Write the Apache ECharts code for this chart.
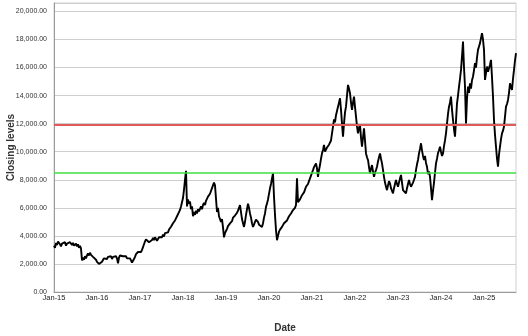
<!DOCTYPE html>
<html>
<head>
<meta charset="utf-8">
<script src="https://cdn.jsdelivr.net/npm/echarts@6/dist/echarts.min.js"></script>
<style>html,body{margin:0;padding:0;background:#fff}#c{width:528px;height:336px}</style>
</head>
<body>
<div id="c"></div>
<script>
// Sampling grid: 43 samples per year starting Jan 2015 (about one every 8.5 days)
const startYear = 2015;
const samplesPerYear = 43;
const xTickLabels = ['Jan-15','Jan-16','Jan-17','Jan-18','Jan-19','Jan-20','Jan-21','Jan-22','Jan-23','Jan-24','Jan-25'];
const yTicks = [0,2000,4000,6000,8000,10000,12000,14000,16000,18000,20000];
const redLevel = 11900;
const greenLevel = 8500;

const closes2015 = [3300,3150,3500,3350,3600,3700,3400,3250,3450,3550,3350,3550,3300,3450,3500,3400,3550,3450,3350,3500,3300,3400,3450,3250,3400,3150,3300,3100,2250,2450,2300,2550,2400,2600,2750,2600,2800,2650,2700,2500,2600,2400,2300];
const closes2016 = [2150,2050,2000,2100,1980,2150,2250,2400,2300,2450,2350,2500,2600,2450,2550,2350,2500,2600,2450,2550,2400,2050,2450,2600,2500,2650,2550,2600,2500,2550,2400,2450,2350,2400,2250,2100,2070,2350,2500,2700,2650,2850,2750];
const closes2017 = [2900,2850,3000,3200,3400,3600,3750,3650,3700,3550,3650,3500,3700,3850,3700,3900,3800,3650,3750,3900,3850,4000,3900,4100,3950,4200,4100,4300,4250,4450,4550,4650,4700,4900,5000,5100,5250,5400,5500,5700,5850,6100,6400];
const closes2018 = [6700,7300,8000,8640,6100,6600,6300,6450,5900,6100,5400,5700,5500,5800,5600,5900,5750,5850,6100,5900,6200,6350,6200,6500,6550,6800,6700,7000,7100,7400,7600,7800,7600,7600,5700,6000,5400,5500,5000,5200,4600,3900,4200];
const closes2019 = [4350,4500,4700,4650,4890,5000,5050,5300,5200,5450,5400,5650,5800,5900,6190,5700,5200,4900,4640,5000,5500,5900,6300,6000,5600,5300,4900,4640,4800,5000,5150,5260,5000,4800,4900,4750,4640,4900,5300,5600,6070,6300,6600];
const closes2020 = [7000,7390,7700,8100,8460,6790,5500,4400,3690,4000,4300,4450,4500,4640,4700,4900,4850,5000,5100,5240,5400,5300,5600,5700,5840,5800,6000,6200,8100,6400,6330,6600,6500,6900,6790,7100,7300,7500,7400,7700,7900,7980,8300];
const closes2021 = [8500,8690,8900,9000,9170,8800,8210,8700,9050,9500,9880,10120,10480,10000,9880,10300,10240,10500,10400,10800,11300,11790,12300,12100,12600,12740,13200,13500,13810,13000,12000,11070,12000,12800,13210,14000,14760,14500,14170,13500,12980,13500,13930];
const closes2022 = [13200,12500,11800,11310,11700,11910,11000,10360,11000,11670,10800,9880,9600,9410,8900,8460,8800,9050,8600,8210,8500,8700,8930,9300,9600,9880,9500,9170,8700,8210,7800,7500,7260,7600,7900,7740,7400,7200,7030,7400,7700,7980,7700];
const closes2023 = [7500,7800,8100,8340,7800,7260,7400,7200,7030,7400,7700,7980,7700,7500,7500,7800,8000,8210,8700,9100,9410,9880,10200,10600,10100,9700,9410,9700,9200,8930,8400,8600,8210,7400,6550,7200,7800,8500,9170,9500,9900,10100,10360];
const closes2024 = [10000,9700,9880,10400,10800,11310,12000,12700,13210,13500,13930,13000,12260,11600,11070,12200,13450,14000,14640,15200,15830,16800,17860,16000,14640,12020,13800,14640,14200,14880,14500,15100,15360,15800,16310,16000,16700,17260,17500,17740,18100,18450,18000];
const closes2025 = [17260,15120,15600,16070,15700,15600,16200,16550,15300,13930,12260,11200,10360,9500,8930,9800,10360,10900,11310,11500,11790,12500,13210,13400,13690,14200,14880,14600,14400,15200,15830,16500,17030];

const closes = [].concat(closes2015,closes2016,closes2017,closes2018,closes2019,closes2020,closes2021,closes2022,closes2023,closes2024,closes2025);
const seriesData = closes.map((v,i)=>[startYear + i/samplesPerYear, v]);

function fmt2(v){
  const s = Math.round(v).toString().replace(/\B(?=(\d{3})+(?!\d))/g, ',');
  return s + '.00';
}

const chart = echarts.init(document.getElementById('c'), null, {renderer:'canvas'});
chart.setOption({
  animation:false,
  backgroundColor:'#fff',
  grid:{left:54,right:12,top:3,bottom:44,show:true,borderColor:'#cfcfcf',borderWidth:1,containLabel:false,outerBoundsMode:'none'},
  xAxis:{
    type:'value',
    min:startYear,
    max:'dataMax',
    interval:1,
    name:'Date',
    nameLocation:'middle',
    nameGap:31,
    nameMoveOverlap:false,
    nameTextStyle:{fontFamily:'Liberation Sans',fontSize:10,fontWeight:'bold',color:'#333'},
    axisLine:{show:true,lineStyle:{color:'#9a9a9a',width:1}},
    axisTick:{show:false},
    splitLine:{show:false},
    axisLabel:{
      margin:2,
      fontFamily:'Liberation Sans',fontSize:7.5,color:'#222',
      formatter:function(v){
        const idx = Math.round(v - startYear);
        if (Math.abs(v - Math.round(v)) > 1e-6) return '';
        return xTickLabels[idx] || '';
      },
      showMaxLabel:false
    }
  },
  yAxis:{
    type:'value',
    min:0,
    max:20600,
    interval:2000,
    name:'Closing levels',
    nameLocation:'middle',
    nameGap:38,
    nameMoveOverlap:false,
    nameTextStyle:{fontFamily:'Liberation Sans',fontSize:10,fontWeight:'bold',color:'#333'},
    axisLine:{show:true,lineStyle:{color:'#9a9a9a',width:1}},
    axisTick:{show:false},
    splitLine:{show:true,lineStyle:{color:'#cfcfcf',width:1}},
    axisLabel:{
      margin:7,
      fontFamily:'Liberation Sans',fontSize:7,color:'#333',
      formatter:function(v){ return yTicks.indexOf(v) >= 0 ? fmt2(v) : ''; }
    }
  },
  series:[{
    type:'line',
    data:seriesData,
    showSymbol:false,
    symbol:'none',
    lineStyle:{color:'#000',width:1.9},
    z:3,
    markLine:{
      silent:true,
      symbol:['none','none'],
      label:{show:false},
      animation:false,
      data:[
        {yAxis:redLevel, lineStyle:{color:'#e05a5a',width:2.2,type:'solid'}},
        {yAxis:greenLevel, lineStyle:{color:'#3ee03e',width:1.5,type:'solid'}}
      ]
    }
  }]
});
</script>
</body>
</html>
